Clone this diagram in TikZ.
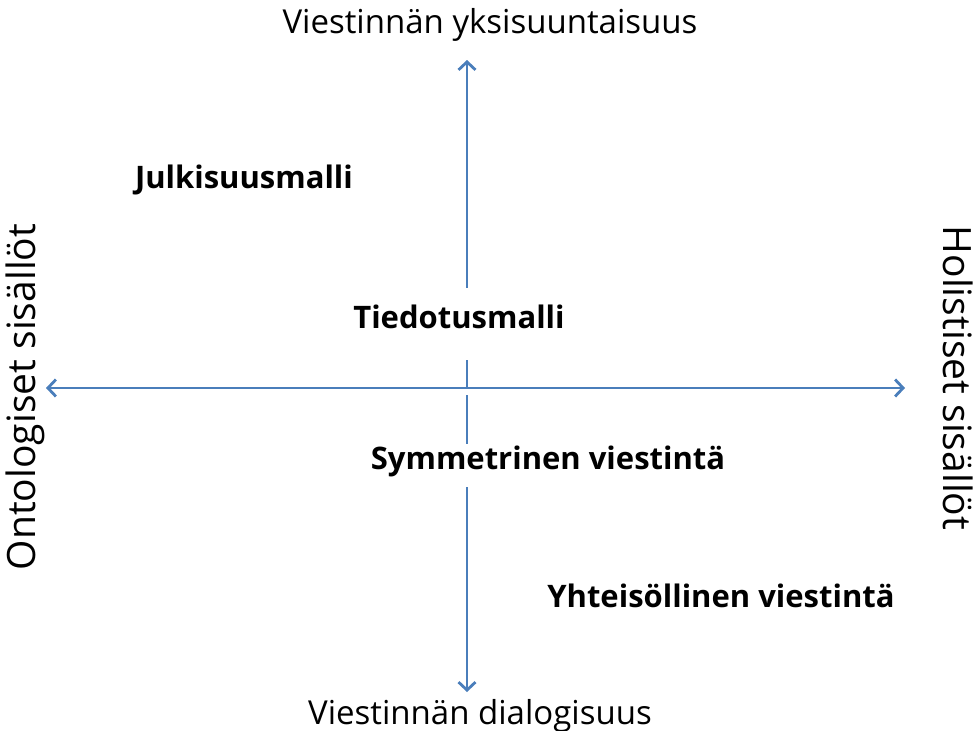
\documentclass[tikz,border=0pt]{standalone}
\usepackage{fontspec}
\setmainfont{Open Sans}
\usetikzlibrary{arrows.meta}
\definecolor{axisblue}{HTML}{4A7EBB}
\tikzset{
  axis/.style={draw=axisblue, line width=2.8pt,
    -{Straight Barb[length=8pt,width=17pt,line join=miter]}},
  model/.style={font=\fontsize{31}{34}\selectfont\bfseries, fill=white,
    inner sep=2pt, anchor=base},
  pole/.style={font=\fontsize{33}{36}\selectfont, inner sep=0pt, anchor=base},
  side/.style={font=\fontsize{39}{42}\selectfont, inner sep=0pt, anchor=base}
}
\begin{document}
\begin{tikzpicture}[x=1pt,y=-1pt]
\useasboundingbox (0,0) rectangle (975,731);
% axes: horizontal first, the vertical one is split at the crossing
\coordinate (c) at (467,388);
\coordinate (top) at (467,60);
\coordinate (bot) at (467,692);
\coordinate (left) at (46,388);
\coordinate (right) at (905,388);
\coordinate (cu) at (467,387);
\coordinate (cd) at (467,395);
\draw[axis] (c) -- (left);
\draw[axis] (c) -- (right);
\draw[axis] (cu) -- (top);
\draw[axis] (cd) -- (bot);
% the four models (white boxes hide the axis behind the text)
\node[model] (julk) at (244,188) {Julkisuusmalli};
\node[model, text height=38pt, text depth=30pt] (tied) at (459,328) {Tiedotusmalli};
\node[model, text height=23pt, text depth=16pt] (symm) at (548,469) {Symmetrinen viestintä};
\node[model] (yhte) at (721,607) {Yhteisöllinen viestintä};
% ends of the axes
\node[pole] (ylos) at (490,33) {Viestinnän yksisuuntaisuus};
\node[pole] (alas) at (480,724) {Viestinnän dialogisuus};
\node[side, rotate=90] (onto) at (35,397) {Ontologiset sisällöt};
\node[side, rotate=-90] (holi) at (943,378) {Holistiset sisällöt};
\end{tikzpicture}
\end{document}
